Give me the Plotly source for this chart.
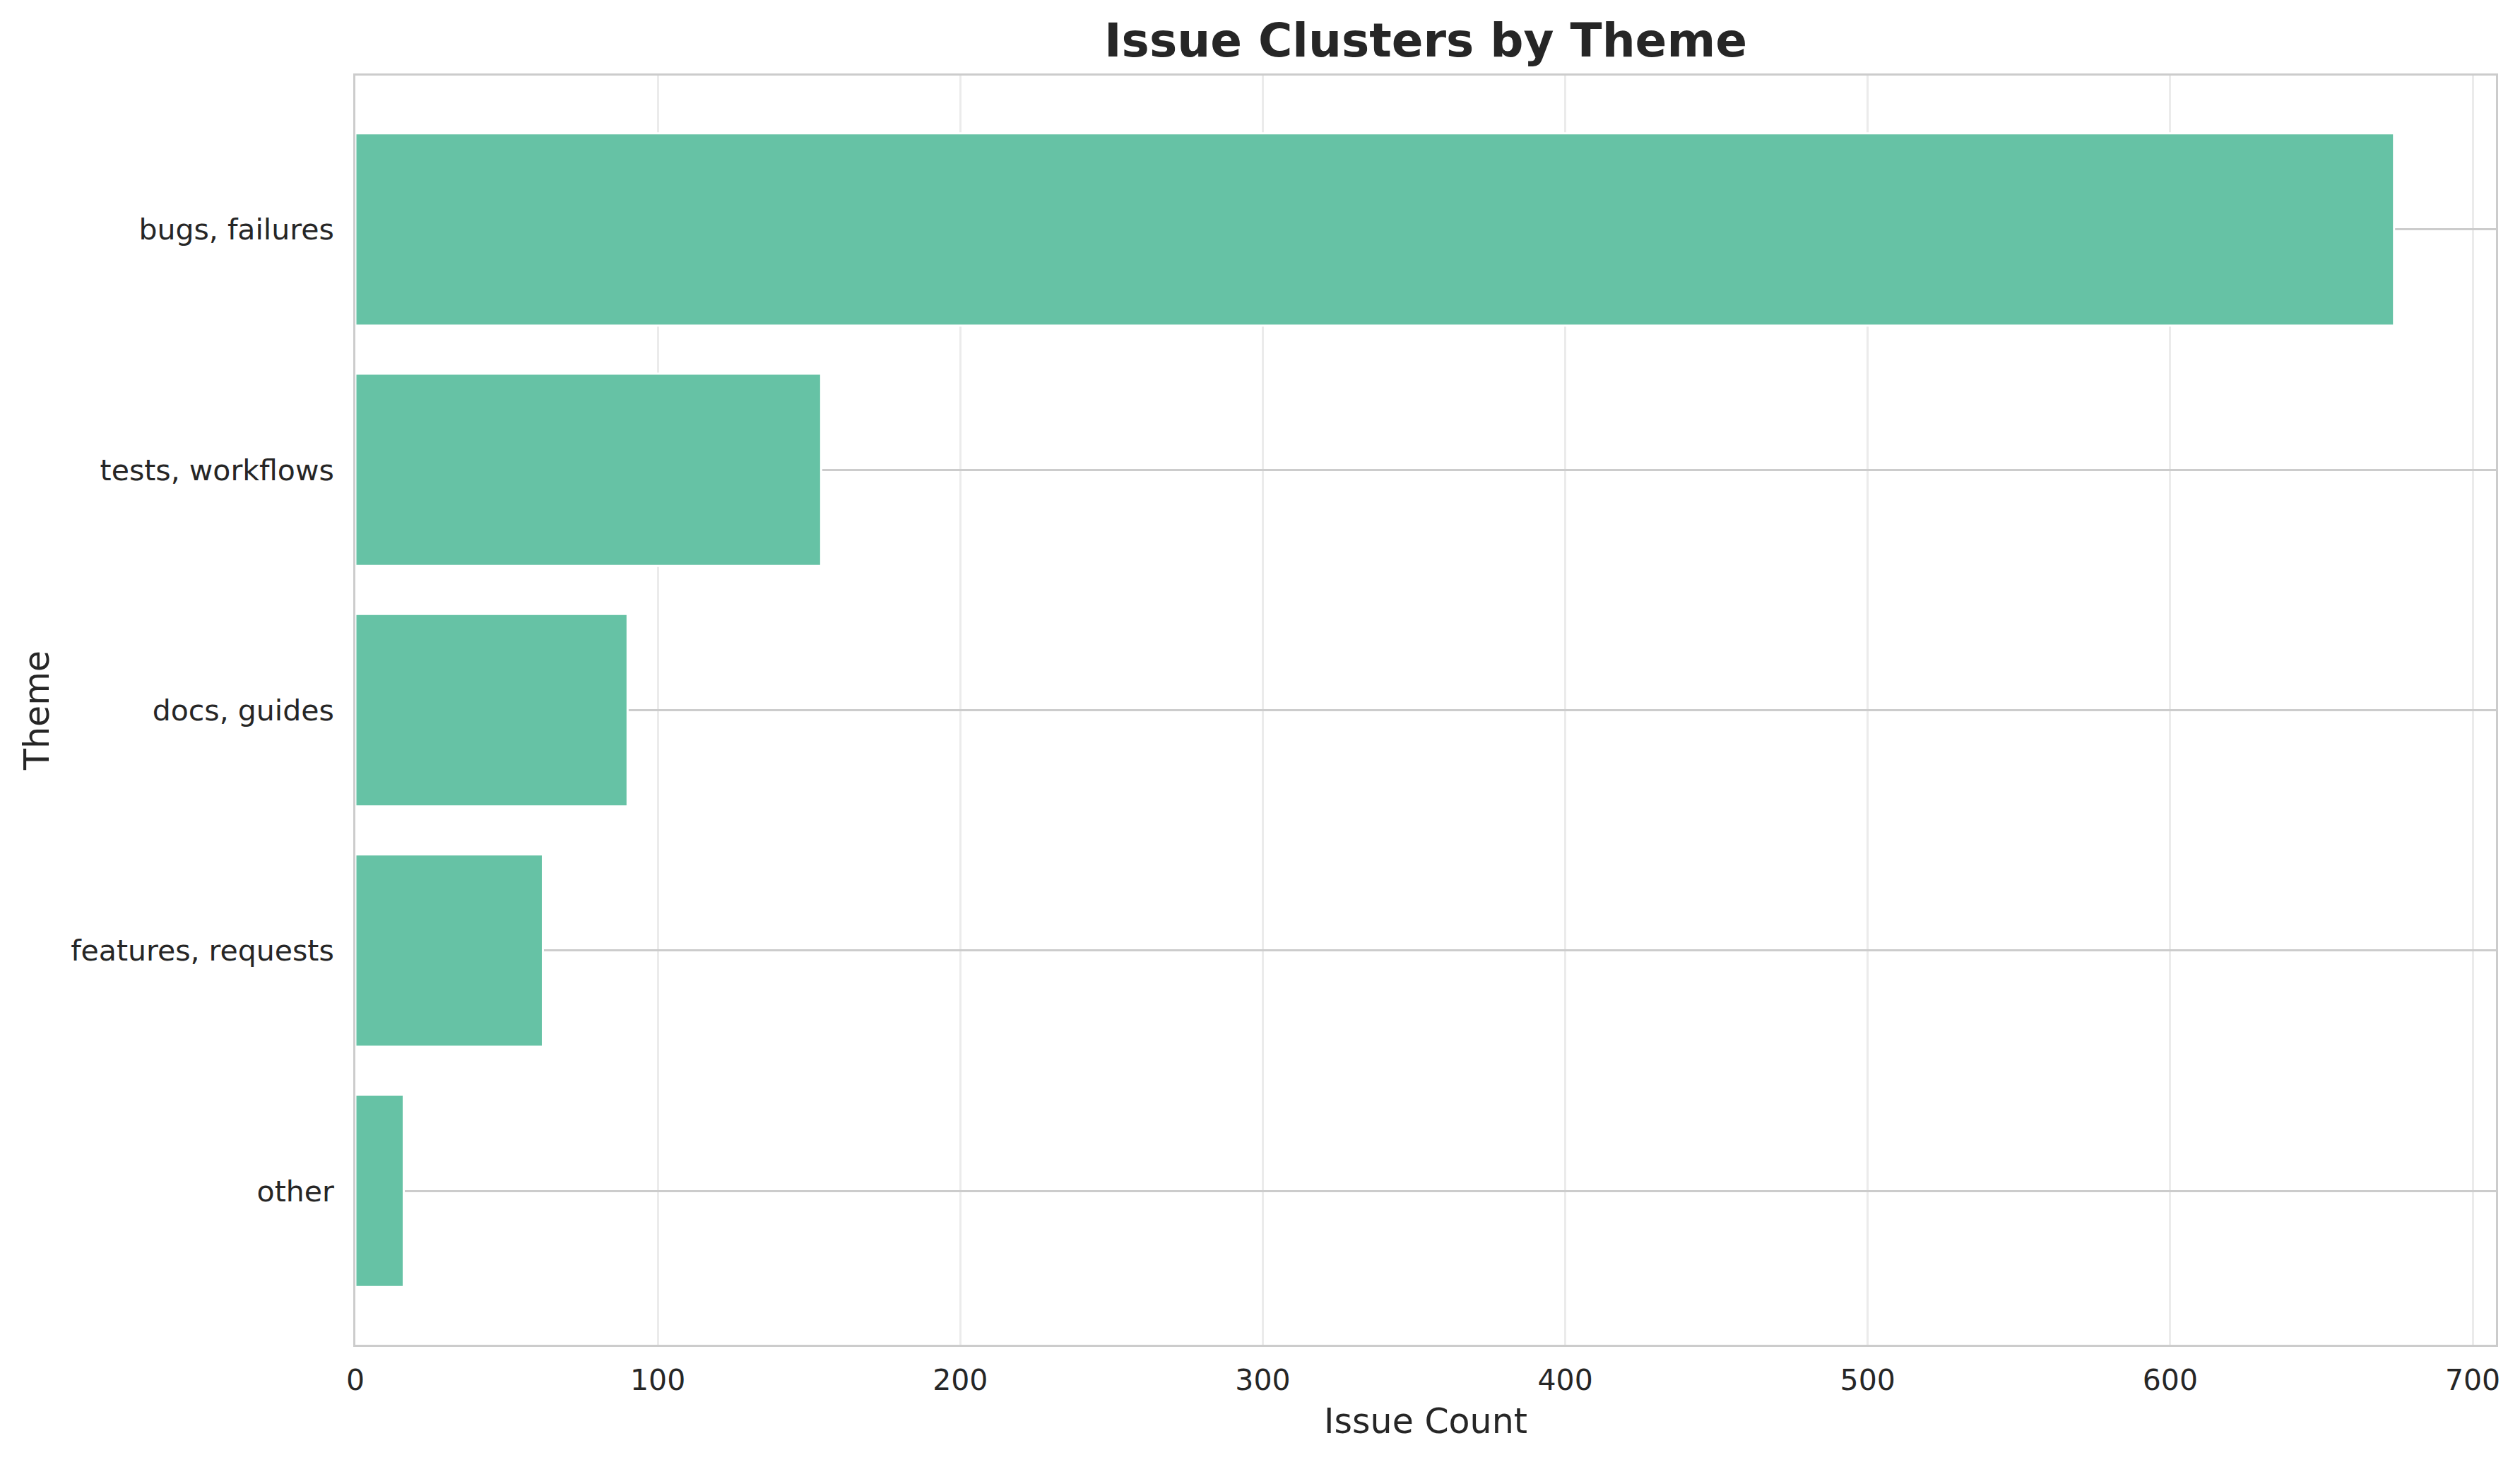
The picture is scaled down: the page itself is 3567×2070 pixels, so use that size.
import plotly.graph_objects as go

themes = ["bugs, failures", "tests, workflows", "docs, guides", "features, requests", "other"]
issue_counts = [674, 154, 90, 62, 16]
x_ticks = [0, 100, 200, 300, 400, 500, 600, 700]

W, H = 3567, 2070
FONT = "DejaVu Sans"
TXT = "#262626"
# page body has an 8px offset; compensate in margins
OFF = 8
ML, MR, MT, MB = 503 - OFF, 34 + OFF, 107 - OFF, 166 + OFF

fig = go.Figure()
fig.add_trace(go.Bar(
    x=issue_counts,
    y=themes,
    orientation="h",
    width=0.8,
    marker=dict(color="#66c2a5", line=dict(color="white", width=3)),
    hoverinfo="x+y",
))

fig.update_layout(
    width=W, height=H,
    paper_bgcolor="white", plot_bgcolor="white",
    margin=dict(l=ML, r=MR, t=MT, b=MB, autoexpand=False),
    font=dict(family=FONT, color=TXT, size=41),
    showlegend=False,
    bargap=0.2,
    title=dict(
        text="<b>Issue Clusters by Theme</b>",
        font=dict(family=FONT, size=66, color=TXT),
        x=(ML + (W - MR)) / 2 / W, xanchor="center",
        y=1 - (57 - OFF) / H, yanchor="middle",
    ),
)

fig.update_xaxes(
    range=[0, max(issue_counts) * 1.05],
    tickvals=x_ticks,
    ticktext=[str(v) for v in x_ticks],
    tickfont=dict(size=41, color=TXT),
    ticks="outside", ticklen=12, tickcolor="rgba(0,0,0,0)",
    showgrid=True, gridcolor="#ebebeb", gridwidth=3,
    showline=True, linecolor="#cccccc", linewidth=3, mirror=True,
    zeroline=False,
    title=dict(text="Issue Count", font=dict(size=49, color=TXT), standoff=18),
    automargin=False,
)

fig.update_yaxes(
    categoryorder="array", categoryarray=themes,
    range=[len(themes) - 1 + 0.64, -0.64],
    tickfont=dict(size=41, color=TXT),
    ticks="outside", ticklen=19, tickcolor="rgba(0,0,0,0)",
    showgrid=True, gridcolor="#cccccc", gridwidth=3,
    showline=True, linecolor="#cccccc", linewidth=3, mirror=True,
    zeroline=False,
    title=dict(text="Theme", font=dict(size=49, color=TXT), standoff=15),
    automargin=False,
)

fig.write_html("out.html")
